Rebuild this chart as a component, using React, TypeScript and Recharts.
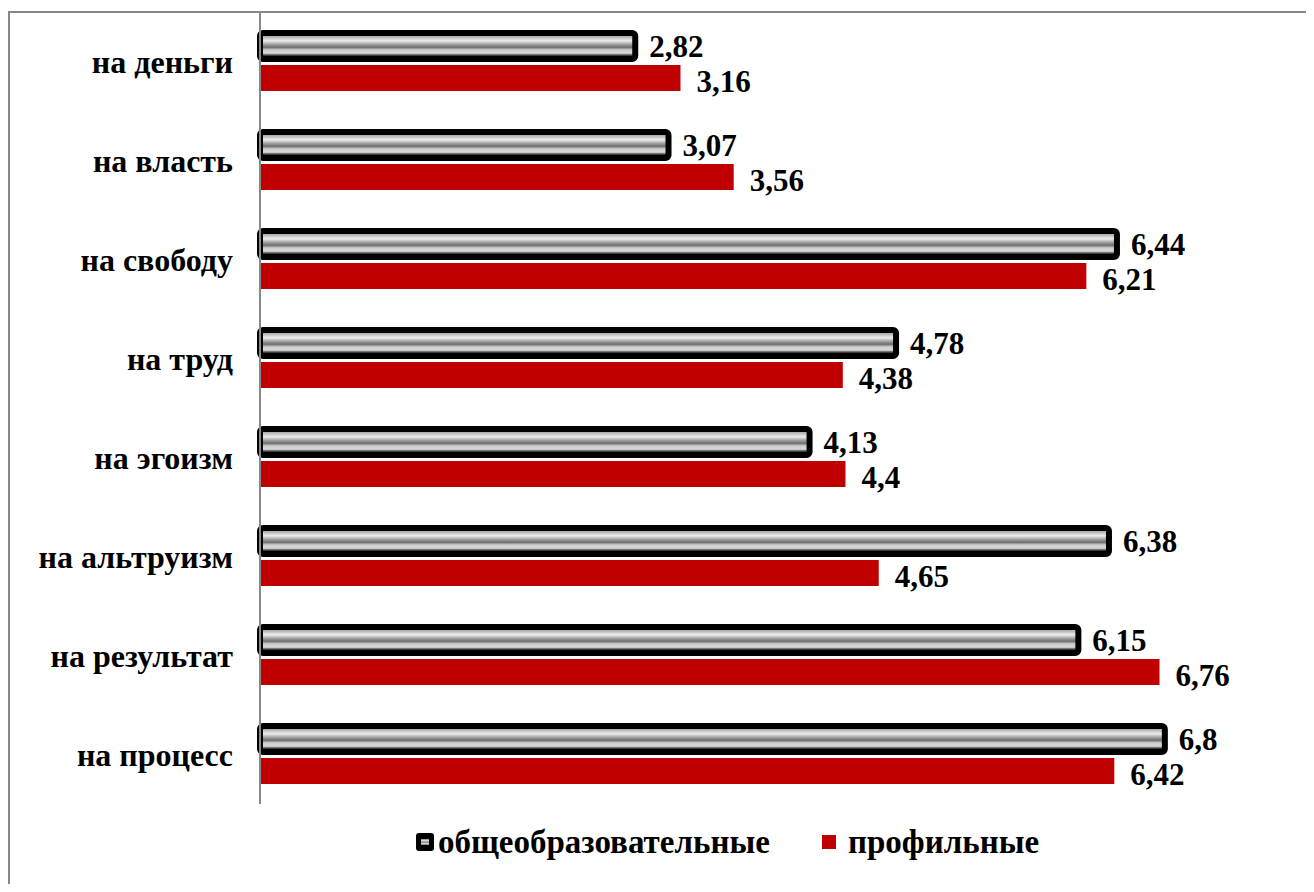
import { BarChart, Bar, XAxis, YAxis, LabelList } from 'recharts'

const categories = [
  'на деньги',
  'на власть',
  'на свободу',
  'на труд',
  'на эгоизм',
  'на альтруизм',
  'на результат',
  'на процесс',
]
const general = [2.82, 3.07, 6.44, 4.78, 4.13, 6.38, 6.15, 6.8]
const profile = [3.16, 3.56, 6.21, 4.38, 4.4, 4.65, 6.76, 6.42]
const seriesNames = ['общеобразовательные', 'профильные']

const data = categories.map((name, i) => ({ name, general: general[i], profile: profile[i] }))

const FONT = 'Liberation Serif'
const fmt = (v: number) => String(v).replace('.', ',')

const StripeDefs = ({ id }: { id: string }) => (
  <linearGradient id={id} x1="0" y1="0" x2="0" y2="1">
    <stop offset="0%" stopColor="#8a8a8a" />
    <stop offset="15%" stopColor="#b5b5b5" />
    <stop offset="30%" stopColor="#eeeeee" />
    <stop offset="45%" stopColor="#9a9a9a" />
    <stop offset="55%" stopColor="#6e6e6e" />
    <stop offset="65%" stopColor="#cfcfcf" />
    <stop offset="78%" stopColor="#d8d8d8" />
    <stop offset="86%" stopColor="#333333" />
    <stop offset="93%" stopColor="#aaaaaa" />
    <stop offset="100%" stopColor="#111111" />
  </linearGradient>
)

const legendText = {
  position: 'absolute' as const,
  top: 0,
  lineHeight: '36px',
  fontFamily: FONT,
  fontWeight: 'bold' as const,
  fontSize: 33,
  color: '#000',
  whiteSpace: 'nowrap' as const,
}

// legend drawn by hand, page coords minus the 8px body margin
const LegendBox = () => (
  <div style={{ position: 'absolute', left: 0, top: 816, width: 1298, height: 36 }}>
    <svg width={18} height={18} style={{ position: 'absolute', left: 408, top: 9 }}>
      <defs>
        <StripeDefs id="legStripe" />
      </defs>
      <rect x={0} y={0} width={18} height={18} rx={3} fill="#000" />
      <rect x={5} y={6} width={8} height={6} fill="url(#legStripe)" />
    </svg>
    <span style={{ ...legendText, left: 430 }}>{seriesNames[0]}</span>
    <svg width={14} height={14} style={{ position: 'absolute', left: 814, top: 11 }}>
      <rect x={0} y={0} width={14} height={14} fill="#c00000" />
    </svg>
    <span style={{ ...legendText, left: 840 }}>{seriesNames[1]}</span>
  </div>
)

export default function App() {
  return (
    <div style={{ position: 'relative', width: 1298, height: 876, overflow: 'visible' }}>
      <div
        style={{
          position: 'absolute',
          left: 0,
          top: 3,
          width: 1320,
          height: 900,
          borderLeft: '2px solid #888',
          borderTop: '2px solid #888',
        }}
      />
      <div style={{ position: 'absolute', left: -8, top: -8 }}>
        <BarChart
          width={1314}
          height={892}
          data={data}
          layout="vertical"
          margin={{ top: 12, right: 56, left: 0, bottom: 88 }}
          barSize={26}
          barGap={6}
        >
          <defs>
            <StripeDefs id="barStripe" />
          </defs>
          <XAxis type="number" domain={[0, 7.5]} hide />
          <YAxis
            type="category"
            dataKey="name"
            width={260}
            axisLine={{ stroke: '#888', strokeWidth: 2 }}
            tickLine={false}
            tickSize={6}
            tickMargin={21}
            tick={{ fontFamily: FONT, fontWeight: 'bold', fontSize: 32, fill: '#000' }}
          />
          <Bar
            dataKey="general"
            name={seriesNames[0]}
            fill="url(#barStripe)"
            stroke="#000"
            strokeWidth={6}
            radius={3}
            isAnimationActive={false}
          >
            <LabelList
              dataKey="general"
              position="right"
              offset={14}
              formatter={(v: number) => fmt(v)}
              style={{ fontFamily: FONT, fontWeight: 'bold', fontSize: 31, fill: '#000' }}
            />
          </Bar>
          <Bar dataKey="profile" name={seriesNames[1]} fill="#c00000" isAnimationActive={false}>
            <LabelList
              dataKey="profile"
              position="right"
              offset={16}
              dy={3}
              formatter={(v: number) => fmt(v)}
              style={{ fontFamily: FONT, fontWeight: 'bold', fontSize: 31, fill: '#000' }}
            />
          </Bar>
        </BarChart>
      </div>
      <LegendBox />
    </div>
  )
}
